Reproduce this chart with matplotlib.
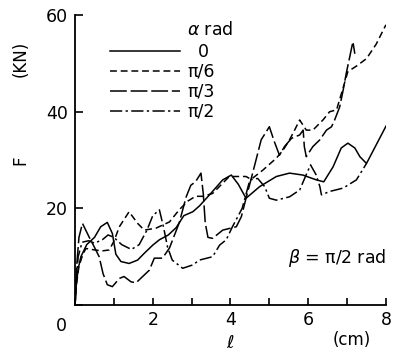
import matplotlib
matplotlib.use("Agg")
import matplotlib.pyplot as plt

# curves, l (cm) vs F (kN)
x_0 = [0, 0.03, 0.08, 0.15, 0.3, 0.5, 0.66, 0.83, 0.96, 1.05, 1.18, 1.39, 1.61, 1.78, 2.0, 2.17, 2.4, 2.6, 2.8,
       3.03, 3.2, 3.46, 3.8, 4.02, 4.2, 4.4, 4.75, 5.18, 5.52, 5.86, 6.21, 6.4, 6.64, 6.85, 7.02, 7.2, 7.33, 7.5, 8.0]
f_0 = [0, 4, 7.5, 10, 12.5, 14, 16.2, 17.1, 14.8, 10.5, 9, 8.6, 9.3, 10.7, 12.4, 13.5, 14.5, 16, 18.5,
       19.3, 20.5, 22.8, 25.9, 26.9, 25, 22.1, 24.5, 26.6, 27.3, 26.9, 25.9, 25.5, 28.6, 32.5, 33.5, 32.5, 30.7, 29.3, 37]

x_pi6 = [0, 0.03, 0.1, 0.2, 0.28, 0.5, 0.7, 0.88, 1.0, 1.14, 1.39, 1.61, 1.78, 2.08, 2.43, 2.68, 2.9, 3.1, 3.3,
         3.54, 3.97, 4.4, 4.53, 4.83, 5.18, 5.35, 5.52, 5.65, 5.78, 5.95, 6.12, 6.38, 6.55, 6.73, 6.9, 7.02,
         7.25, 7.5, 7.75, 8.0]
f_pi6 = [0, 4, 8, 10.5, 11.7, 11.4, 11.2, 11.4, 13.2, 16.2, 19.3, 16.9, 15.5, 15.9, 17.2, 19.7, 21.5, 22.5, 22.5,
         23.1, 26.6, 26.6, 26, 27.9, 30.4, 32, 34.2, 36.2, 38.3, 36.2, 36.2, 38.3, 40, 40.4, 45, 48.3,
         49.5, 51, 54, 58]

x_pi3 = [0, 0.04, 0.1, 0.19, 0.36, 0.49, 0.62, 0.72, 0.83, 0.96, 1.14, 1.26, 1.44, 1.57, 1.74, 1.91, 2.04, 2.25,
         2.43, 2.68, 2.86, 2.98, 3.1, 3.24, 3.3, 3.35, 3.42, 3.54, 3.8, 4.15, 4.28, 4.4, 4.57, 4.79, 5.0, 5.12,
         5.26, 5.39, 5.57, 5.78, 5.87, 5.9, 5.95, 6.12, 6.3, 6.47, 6.6, 6.68, 6.81, 6.9, 6.98, 7.07, 7.15, 7.2]
f_pi3 = [0, 8, 14, 16.9, 14.1, 12.1, 10, 6.5, 4.2, 3.8, 5.5, 5.9, 4.8, 4.6, 5.9, 7.2, 9.7, 9.7,
         11.8, 17, 22.4, 24.8, 25.5, 27.3, 23, 17, 14, 13.8, 15.5, 16.2, 18.3, 22.1, 27.3, 34.2, 36.9, 34,
         31, 32.8, 34.5, 35.2, 36.2, 32.8, 30.7, 32.8, 34.2, 36.2, 36.9, 38.3, 41, 44.5, 48, 51.4, 54.5, 52]

x_pi2 = [0, 0.03, 0.08, 0.18, 0.35, 0.5, 0.7, 0.85, 1.0, 1.2, 1.45, 1.65, 1.85, 2.0, 2.17, 2.28, 2.38, 2.5,
         2.77, 3.03, 3.2, 3.54, 3.72, 3.89, 4.05, 4.3, 4.5, 4.7, 4.88, 5.0, 5.18, 5.52, 5.78, 5.95, 6.06, 6.2,
         6.3, 6.34, 6.55, 6.9, 7.24, 7.5]
f_pi2 = [0, 5, 10, 13, 13.3, 12.8, 13.5, 14.5, 14, 12.5, 11.5, 12.5, 15.5, 18.5, 19.7, 16, 12, 9.3,
         7.6, 8.3, 9.3, 10, 12.4, 13.5, 16.2, 20, 25.9, 26.2, 24.5, 22.1, 21.7, 22.4, 23.8, 27, 29, 27,
         24.5, 22.8, 23.5, 24.2, 25.9, 29.3]

labels = ['  0', 'π/6', 'π/3', 'π/2']

plt.rcParams['font.family'] = 'DejaVu Sans'
fig = plt.figure(figsize=(3.93, 3.52), dpi=100)
ax = fig.add_axes([0.191, 0.1335, 0.791, 0.8235])

lw = 1.1
ax.plot(x_0, f_0, color='black', lw=lw, linestyle='-', label=labels[0])
ax.plot(x_pi6, f_pi6, color='black', lw=lw, linestyle=(0, (4.5, 2.5)), label=labels[1])
ax.plot(x_pi3, f_pi3, color='black', lw=lw, linestyle=(0, (11, 2.5)), label=labels[2])
ax.plot(x_pi2, f_pi2, color='black', lw=lw, linestyle=(0, (8, 2.2, 1.5, 2.2)), label=labels[3])

ax.set_xlim(0, 8)
ax.set_ylim(0, 60)
ax.spines['top'].set_visible(False)
ax.spines['right'].set_visible(False)
ax.spines['left'].set_linewidth(1.3)
ax.spines['bottom'].set_linewidth(1.3)

ax.set_xticks([0, 2, 4, 6, 8])
ax.set_xticklabels(['', '2', '4', '6', '8'])
ax.set_xticks([1, 3, 5, 7], minor=True)
ax.set_yticks([0, 20, 40, 60])
ax.set_yticklabels(['', '20', '40', '60'])
ax.tick_params(axis='both', which='both', direction='in', width=1.2, labelsize=12.5)
ax.tick_params(axis='x', which='both', length=5, pad=4)
ax.tick_params(axis='y', which='major', length=6, pad=5)

ax.text(-0.045, -0.04, '0', transform=ax.transAxes, fontsize=12.5, ha='center', va='top')
ax.text(4.0, -0.13, r'$\ell$', transform=ax.get_xaxis_transform(), fontsize=13, ha='center', va='center')
ax.text(7.12, -0.12, '(cm)', transform=ax.get_xaxis_transform(), fontsize=12, ha='center', va='center')
ax.text(-0.175, 30, 'F', transform=ax.get_yaxis_transform(), fontsize=12, rotation=90, ha='center', va='center')
ax.text(-0.175, 51, '(KN)', transform=ax.get_yaxis_transform(), fontsize=12, rotation=90, ha='center', va='center')

ax.text(2.89, 57, r'$\alpha$ rad', fontsize=12.5, ha='left', va='center')
ax.text(8.0, 9.7, r'$\beta$ = π/2 rad', fontsize=12.5, ha='right', va='center')

ax.legend(loc='upper left', bbox_to_anchor=(0.113, 0.905), frameon=False, fontsize=12.5,
          handlelength=4.0, handletextpad=0.45, labelspacing=0.12, borderpad=0, borderaxespad=0)

fig.savefig('out.png', dpi=100)
